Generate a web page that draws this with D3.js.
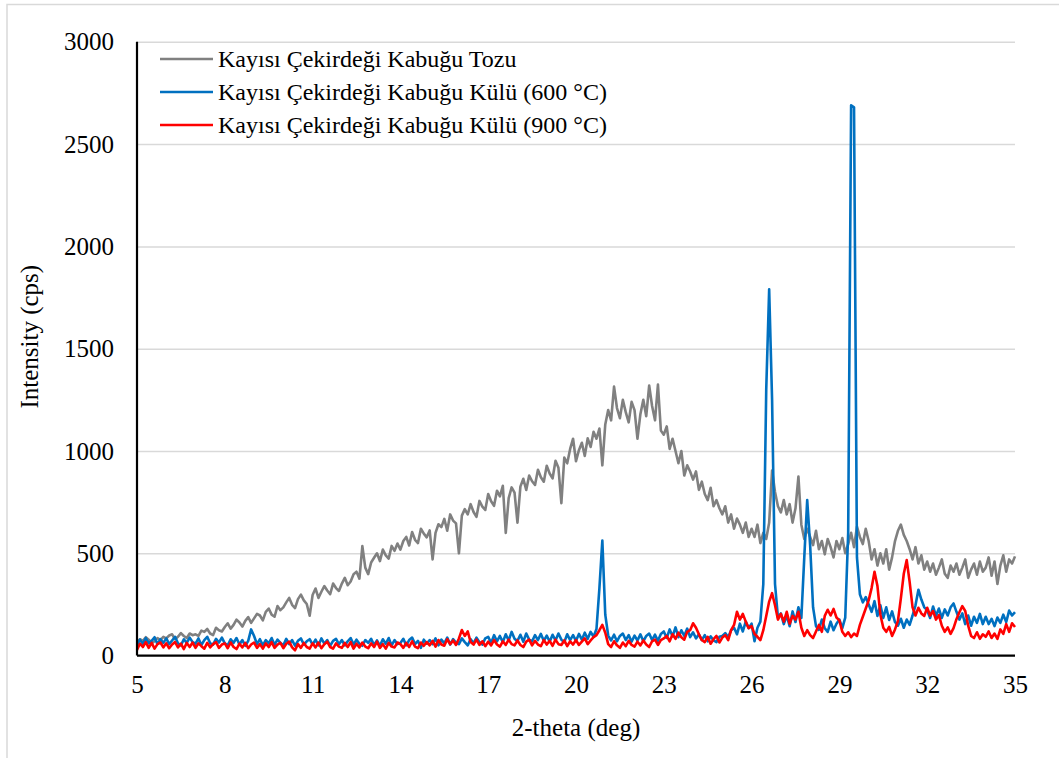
<!DOCTYPE html>
<html>
<head>
<meta charset="utf-8">
<script src="https://cdn.jsdelivr.net/npm/d3@7"></script>
<style>
  body { margin: 0; background: #fff; }
  svg text { font-family: "Liberation Serif", "Times New Roman", serif; fill: #000; }
</style>
</head>
<body>
<div id="chart"></div>
<script>
// 2-theta grid: 5.0 .. 35.0 deg, 0.1 deg step (301 points)
const thetaStart = 5, thetaStep = 0.1, thetaCount = 301;
const twoTheta = d3.range(thetaCount).map(i => +(thetaStart + i * thetaStep).toFixed(1));

const seriesNames = [
  'Kayısı Çekirdeği Kabuğu Tozu',
  'Kayısı Çekirdeği Kabuğu Külü (600 °C)',
  'Kayısı Çekirdeği Kabuğu Külü (900 °C)'
];
const seriesColors = ['#808080', '#0070C0', '#FF0000'];

const xTicks = [5, 8, 11, 14, 17, 20, 23, 26, 29, 32, 35];
const yTicks = [0, 500, 1000, 1500, 2000, 2500, 3000];

// Kabuk tozu (gray), one row per degree
const tozu = [
  64, 80, 72, 90, 78, 60, 70, 86, 76, 92,
  84, 98, 104, 80, 92, 110, 96, 86, 108, 100,
  104, 96, 122, 116, 130, 108, 100, 136, 124, 118,
  140, 158, 132, 150, 176, 162, 142, 170, 188, 160,
  182, 204, 196, 172, 214, 230, 200, 190, 242, 222,
  236, 260, 282, 248, 232, 276, 298, 270, 252, 195,
  296, 328, 282, 312, 340, 318, 300, 352, 330, 316,
  352, 380, 344, 362, 398, 410, 376, 535, 430, 398,
  455, 478, 500, 462, 518, 490, 474, 536, 512, 548,
  518, 560, 580, 538, 604, 566, 550, 620, 596, 578,
  612, 470, 600, 642, 628, 668, 610, 690, 660, 646,
  500, 684, 716, 690, 740, 702, 678, 756, 728, 712,
  790, 754, 732, 806, 778, 830, 600, 770, 822, 796,
  650, 826, 864, 810, 880, 852, 834, 908, 872, 850,
  928, 890, 866, 952, 918, 745, 968, 940, 1010, 1060,
  950, 1004, 1040, 976, 1062, 1020, 1094, 1060, 1110, 930,
  1130, 1200, 1150, 1315, 1210, 1160, 1250, 1190, 1140, 1240,
  1200, 1060, 1180, 1250, 1170, 1320, 1220, 1150, 1325, 1100,
  1080, 1120, 1010, 1060, 1000, 940, 1000, 880, 930, 900,
  860, 900, 810, 850, 790, 760, 820, 730, 760, 720,
  690, 730, 650, 690, 620, 670, 640, 600, 650, 580,
  620, 580, 640, 550, 600, 570, 650, 905, 800, 730,
  700, 760, 690, 740, 650, 720, 875, 640, 570, 620,
  580, 540, 610, 520, 560, 495, 570, 530, 480, 560,
  520, 575, 500, 545, 600, 530, 630, 580, 545, 620,
  560, 470, 520, 440, 500, 450, 520, 420, 480, 560,
  610, 640, 590, 560, 520, 470, 530, 450, 490, 420,
  460, 410, 450, 395, 430, 470, 400, 380, 440, 410,
  450, 395, 430, 470, 380, 420, 450, 395, 460, 410,
  430, 480, 390, 460, 350, 440, 490, 410, 470, 450,
  485
];

// Kabuk külü 600 °C (blue)
const kul600 = [
  50, 78, 58, 86, 60, 72, 90, 56, 80, 62,
  84, 56, 74, 92, 60, 50, 80, 62, 88, 66,
  58, 84, 52, 76, 92, 60, 54, 82, 64, 88,
  60, 50, 80, 62, 86, 54, 76, 48, 72, 128,
  96, 56, 80, 50, 76, 60, 86, 52, 78, 62,
  50, 82, 56, 76, 48, 72, 84, 54, 70, 80,
  54, 78, 50, 84, 58, 76, 48, 72, 82, 56,
  76, 50, 70, 86, 54, 78, 58, 48, 76, 62,
  82, 52, 74, 48, 80, 58, 86, 50, 76, 56,
  62, 82, 50, 76, 88, 56, 72, 38, 78, 58,
  76, 56, 84, 50, 78, 60, 88, 54, 80, 64,
  56, 84, 66, 50, 80, 60, 88, 66, 54, 84,
  92, 62, 100, 70, 96, 66, 104, 74, 116, 82,
  72, 102, 68, 108, 78, 70, 100, 76, 106, 72,
  98, 68, 102, 74, 108, 78, 66, 104, 76, 100,
  72, 106, 78, 112, 82, 116, 92, 130, 330, 562,
  200, 98, 74, 102, 70, 96, 108, 76, 100, 68,
  98, 74, 104, 70, 96, 108, 76, 102, 72, 106,
  118, 86, 128, 94, 138, 90, 124, 96, 132, 90,
  114, 84, 104, 76, 100, 70, 94, 74, 66, 92,
  96, 110, 90, 124, 136, 104, 156, 118, 166, 134,
  156, 70, 136, 166, 350, 1300, 1790, 1250, 350, 186,
  206, 154, 196, 144, 216, 164, 236, 184, 480, 760,
  540, 236, 144, 126, 176, 134, 116, 166, 124, 156,
  176, 134, 186, 600, 2690, 2680, 480, 300, 260, 286,
  250, 214, 266, 194, 246, 184, 236, 174, 216, 164,
  146, 180, 136, 176, 150, 196, 246, 322, 274, 236,
  222, 184, 240, 194, 230, 184, 226, 196, 236, 255,
  214, 176, 206, 154, 196, 146, 190, 160, 204, 154,
  190, 154, 180, 144, 186, 160, 200, 164, 220, 196,
  212
];

// Kabuk külü 900 °C (red)
const kul900 = [
  28, 58, 42, 66, 38, 62, 34, 56, 64, 40,
  60, 36, 54, 66, 40, 58, 32, 62, 42, 64,
  38, 60, 46, 34, 62, 40, 56, 66, 38, 54,
  60, 36, 64, 42, 32, 58, 40, 62, 36, 54,
  64, 38, 56, 34, 60, 42, 66, 38, 54, 62,
  36, 58, 68, 40, 26, 56, 38, 62, 42, 34,
  60, 40, 64, 36, 56, 68, 42, 34, 60, 44,
  38, 62, 42, 66, 34, 58, 40, 64, 44, 36,
  60, 42, 68, 38, 56, 34, 62, 44, 40, 64,
  56, 38, 62, 42, 70, 44, 36, 64, 48, 66,
  50, 72, 44, 76, 54, 48, 80, 56, 74, 52,
  84, 125, 96, 118, 66, 54, 78, 52, 70, 46,
  68, 50, 76, 54, 44, 70, 52, 78, 56, 50,
  74, 52, 42, 68, 78, 50, 72, 54, 46, 76,
  54, 72, 48, 78, 56, 52, 74, 46, 70, 54,
  76, 52, 68, 84, 56, 74, 90, 100, 124, 150,
  112, 56, 42, 70, 50, 38, 64, 46, 72, 52,
  44, 68, 50, 74, 54, 42, 70, 78, 52, 76,
  84, 96, 70, 104, 82, 112, 90, 78, 116, 124,
  158, 136, 104, 76, 66, 92, 58, 80, 96, 64,
  88, 100, 76, 124, 150, 214, 176, 204, 166, 134,
  144, 106, 92, 76, 124, 194, 264, 305, 246, 176,
  204, 166, 214, 156, 194, 176, 214, 136, 96, 124,
  100, 86, 118, 150, 116, 194, 224, 196, 228, 186,
  172, 116, 96, 114, 90, 108, 96, 150, 190, 230,
  270, 330, 410, 340, 200, 136, 116, 140, 96, 128,
  170, 280, 400, 467, 360, 236, 196, 234, 206, 194,
  234, 196, 218, 176, 198, 146, 116, 138, 106, 134,
  178, 212, 242, 218, 146, 96, 86, 114, 82, 104,
  92, 118, 86, 108, 82, 128, 106, 154, 116, 158,
  140
];

const allSeries = [tozu, kul600, kul900];

const width = 1059, height = 758;
const margin = { left: 137, right: 44, top: 41.8, bottom: 102.4 };
const innerW = width - margin.left - margin.right;
const innerH = height - margin.top - margin.bottom;

const svg = d3.select('#chart').append('svg')
  .attr('width', width)
  .attr('height', height);

// faint outer frame of the page picture
svg.append('path')
  .attr('d', `M7,${height} V4.5 H${width}`)
  .attr('fill', 'none')
  .attr('stroke', '#d9d9d9')
  .attr('stroke-width', 1.5);

const g = svg.append('g')
  .attr('transform', `translate(${margin.left}, ${margin.top})`);

const x = d3.scaleLinear().domain([5, 35]).range([0, innerW]);
const y = d3.scaleLinear().domain([0, 3000]).range([innerH, 0]);

// gridlines
g.append('g')
  .attr('class', 'grid')
  .call(d3.axisLeft(y).tickValues(yTicks.slice(1)).tickSize(-innerW).tickFormat(''))
  .call(sel => sel.select('.domain').remove())
  .call(sel => sel.selectAll('line').attr('stroke', '#d9d9d9').attr('stroke-width', 1.5));

// y labels
g.append('g')
  .call(d3.axisLeft(y).tickValues(yTicks).tickSize(0).tickPadding(23).tickFormat(d3.format('d')))
  .call(sel => sel.select('.domain').remove())
  .call(sel => sel.selectAll('text')
    .style('font-size', '25px')
    .style('font-family', '"Liberation Serif", serif'));

// x labels
g.append('g')
  .attr('transform', `translate(0, ${innerH})`)
  .call(d3.axisBottom(x).tickValues(xTicks).tickSize(0).tickPadding(20).tickFormat(d3.format('d')))
  .call(sel => sel.select('.domain').remove())
  .call(sel => sel.selectAll('text')
    .style('font-size', '25px')
    .style('font-family', '"Liberation Serif", serif'));

// series
const line = d3.line()
  .x((d, i) => x(twoTheta[i]))
  .y(d => y(d));

allSeries.forEach((vals, k) => {
  g.append('path')
    .datum(vals)
    .attr('fill', 'none')
    .attr('stroke', seriesColors[k])
    .attr('stroke-width', 2.6)
    .attr('stroke-linejoin', 'round')
    .attr('d', line);
});

// axis lines
g.append('line')
  .attr('x1', 0).attr('x2', 0).attr('y1', 0).attr('y2', innerH)
  .attr('stroke', '#000').attr('stroke-width', 2.2);
g.append('line')
  .attr('x1', 0).attr('x2', innerW).attr('y1', innerH).attr('y2', innerH)
  .attr('stroke', '#000').attr('stroke-width', 2.2);

// axis titles
svg.append('text')
  .attr('x', margin.left + innerW / 2)
  .attr('y', 736)
  .attr('text-anchor', 'middle')
  .style('font-size', '25px')
  .text('2-theta (deg)');

svg.append('text')
  .attr('transform', `translate(38, ${margin.top + innerH / 2 - 12}) rotate(-90)`)
  .attr('text-anchor', 'middle')
  .style('font-size', '25px')
  .text('Intensity (cps)');

// legend
const legend = svg.append('g').attr('transform', 'translate(160, 59)');
seriesNames.forEach((name, k) => {
  const row = legend.append('g').attr('transform', `translate(0, ${k * 33})`);
  row.append('line')
    .attr('x1', 0).attr('x2', 53)
    .attr('stroke', seriesColors[k])
    .attr('stroke-width', 2.6);
  row.append('text')
    .attr('x', 58)
    .attr('y', 8)
    .style('font-size', '24px')
    .text(name);
});
</script>
</body>
</html>
